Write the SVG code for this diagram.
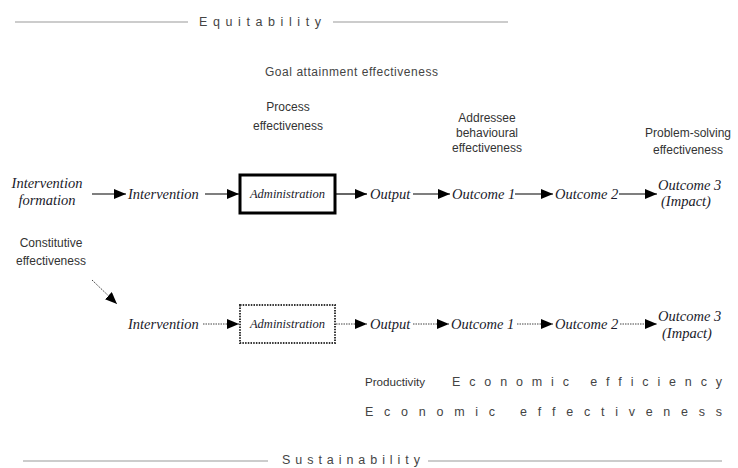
<svg xmlns="http://www.w3.org/2000/svg" width="738" height="468" viewBox="0 0 738 468">
<defs>
<marker id="ah" markerUnits="userSpaceOnUse" markerWidth="13" markerHeight="11" refX="12" refY="5" orient="auto">
<path d="M0,0 L12,5 L0,10 Z" fill="#000"/>
</marker>
<style>
.lbl{font-family:"Liberation Sans",Arial,sans-serif;font-size:12px;fill:#333}
.sp{font-family:"Liberation Sans",Arial,sans-serif;font-size:12.5px;fill:#444;white-space:pre}
.it{font-family:"Liberation Serif","Times New Roman",serif;font-style:italic;font-size:14.5px;fill:#1a1a2a}
.itb{font-family:"Liberation Serif","Times New Roman",serif;font-style:italic;font-size:12.5px;fill:#1a1a2a}
.rule{stroke:#999;stroke-width:1;fill:none}
.solid{stroke:#000;stroke-width:1.2;fill:none;marker-end:url(#ah)}
.dot{stroke:#444;stroke-width:1;stroke-dasharray:1.5 1;fill:none;marker-end:url(#ah)}
</style>
</defs>
<rect width="738" height="468" fill="#fff"/>

<g id="equitability">
<line class="rule" x1="15" y1="22" x2="188" y2="22"/>
<text class="sp" x="199" y="26" textLength="122" lengthAdjust="spacing">E q u i t a b i l i t y</text>
<line class="rule" x1="333" y1="22" x2="508" y2="22"/>
</g>

<g id="sustainability">
<line class="rule" x1="23" y1="461" x2="268" y2="461"/>
<text class="sp" x="282" y="464" textLength="138" lengthAdjust="spacing">S u s t a i n a b i l i t y</text>
<line class="rule" x1="428" y1="461" x2="722" y2="461"/>
</g>

<g id="goal-attainment">
<text class="sp" x="265" y="76" textLength="173" lengthAdjust="spacing" style="font-size:12px">Goal attainment effectiveness</text>
</g>

<g id="process-effectiveness">
<text class="lbl" x="288" y="111" text-anchor="middle">Process</text>
<text class="lbl" x="288" y="130" text-anchor="middle">effectiveness</text>
</g>

<g id="addressee-effectiveness">
<text class="lbl" x="487" y="122" text-anchor="middle">Addressee</text>
<text class="lbl" x="487" y="137" text-anchor="middle">behavioural</text>
<text class="lbl" x="487" y="152" text-anchor="middle">effectiveness</text>
</g>

<g id="problem-solving-effectiveness">
<text class="lbl" x="688" y="137" text-anchor="middle">Problem-solving</text>
<text class="lbl" x="688" y="154" text-anchor="middle">effectiveness</text>
</g>

<g id="constitutive-effectiveness">
<text class="lbl" x="51" y="247" text-anchor="middle">Constitutive</text>
<text class="lbl" x="51" y="265" text-anchor="middle">effectiveness</text>
</g>

<!-- Row 1 -->
<g id="intervention-formation">
<text class="it" x="47" y="188" text-anchor="middle">Intervention</text>
<text class="it" x="47" y="205" text-anchor="middle">formation</text>
</g>
<g id="intervention-1"><text class="it" x="128" y="199">Intervention</text></g>
<g id="administration-1">
<rect x="240" y="175" width="95" height="38" fill="none" stroke="#000" stroke-width="3"/>
<text class="itb" x="287.5" y="198" text-anchor="middle">Administration</text>
</g>
<g id="output-1"><text class="it" x="370" y="199">Output</text></g>
<g id="outcome1-1"><text class="it" x="452" y="199">Outcome 1</text></g>
<g id="outcome2-1"><text class="it" x="555" y="199">Outcome 2</text></g>
<g id="outcome3-1">
<text class="it" x="658" y="190">Outcome 3</text>
<text class="it" x="661" y="206">(Impact)</text>
</g>

<!-- Row 2 -->
<g id="intervention-2"><text class="it" x="128" y="329">Intervention</text></g>
<g id="administration-2">
<rect x="240" y="305" width="95" height="38" fill="none" stroke="#333" stroke-width="2" stroke-dasharray="1.5 1.2"/>
<text class="itb" x="287.5" y="328" text-anchor="middle">Administration</text>
</g>
<g id="output-2"><text class="it" x="370" y="329">Output</text></g>
<g id="outcome1-2"><text class="it" x="451" y="329">Outcome 1</text></g>
<g id="outcome2-2"><text class="it" x="555" y="329">Outcome 2</text></g>
<g id="outcome3-2">
<text class="it" x="658" y="321">Outcome 3</text>
<text class="it" x="662" y="338">(Impact)</text>
</g>

<g id="productivity"><text class="lbl" x="365" y="386" style="font-size:11px" textLength="60" lengthAdjust="spacingAndGlyphs">Productivity</text></g>
<g id="economic-efficiency"><text class="sp" x="452" y="386" textLength="270" lengthAdjust="spacing">E c o n o m i c   e f f i c i e n c y</text></g>
<g id="economic-effectiveness"><text class="sp" x="365" y="416" textLength="357" lengthAdjust="spacing">E c o n o m i c   e f f e c t i v e n e s s</text></g>

<g id="connectors">
<line class="solid" x1="92" y1="194" x2="126" y2="194"/>
<line class="solid" x1="205" y1="194" x2="239" y2="194"/>
<line class="solid" x1="336" y1="194" x2="367" y2="194"/>
<line class="solid" x1="413" y1="194" x2="450" y2="194"/>
<line class="solid" x1="515" y1="194" x2="553" y2="194"/>
<line class="solid" x1="619" y1="194" x2="657" y2="194"/>

<line class="dot" x1="92" y1="280" x2="117" y2="304"/>
<line class="dot" x1="203" y1="324" x2="239" y2="324"/>
<line class="dot" x1="336" y1="324" x2="367" y2="324"/>
<line class="dot" x1="413" y1="324" x2="449" y2="324"/>
<line class="dot" x1="517" y1="324" x2="553" y2="324"/>
<line class="dot" x1="620" y1="324" x2="657" y2="324"/>
</g>
</svg>
